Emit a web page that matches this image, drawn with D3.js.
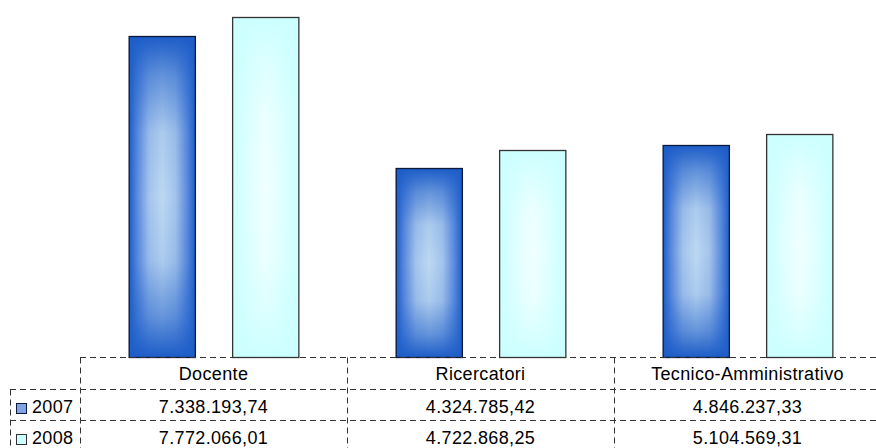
<!DOCTYPE html>
<html>
<head>
<meta charset="utf-8">
<script src="https://cdn.jsdelivr.net/npm/d3@7"></script>
<style>
  body { margin: 0; background: #fff; }
  svg { display: block; font-family: "Liberation Sans", Arial, sans-serif; }
</style>
</head>
<body>
<svg width="876" height="448"></svg>
<script>
// Data
var categories = ["Docente", "Ricercatori", "Tecnico-Amministrativo"];
var years = ["2007", "2008"];
var values2007 = [7338193.74, 4324785.42, 4846237.33];
var values2008 = [7772066.01, 4722868.25, 5104569.31];
var seriesValues = [values2007, values2008];

var svg = d3.select("svg"),
    width = +svg.attr("width"),
    height = +svg.attr("height");

var it = d3.formatLocale({ decimal: ",", thousands: ".", grouping: [3], currency: ["€", ""] });
var fmt = it.format(",.2f");

// Scales
var x0 = d3.scaleBand().domain(categories).range([80, 881]);
var x1 = d3.scaleBand().domain(years).range([0, x0.bandwidth()])
    .paddingInner(0.36).paddingOuter(0.47);
var y = d3.scaleLinear().domain([0, 8000000]).range([357, 7]);

// Gradients: a "rectangle" style fill, built from a horizontal base
// plus a vertical overlay that darkens towards the top and bottom
var defs = svg.append("defs");
var palettes = [
    { id: "blue", light: "#bcd8f2", mid1: "#a4c4ec", mid2: "#5b8bde", dark: "#1d5dc8", swatch: "#7ea4e4" },
    { id: "cyan", light: "#f0ffff", mid1: "#e4ffff", mid2: "#d4ffff", dark: "#ccffff", swatch: "#ccffff" }
];
var profile = [[0, "light"], [0.4, "mid1"], [0.75, "mid2"], [1, "dark"]];
var alphas = [[0, 0], [0.4, 0.1], [0.75, 0.55], [1, 1]];

palettes.forEach(function (p) {
    var h = defs.append("linearGradient").attr("id", p.id + "H")
        .attr("x1", 0).attr("x2", 1).attr("y1", 0).attr("y2", 0);
    var stopsH = [];
    profile.forEach(function (s) {
        stopsH.push([0.5 - s[0] / 2, p[s[1]]]);
        stopsH.push([0.5 + s[0] / 2, p[s[1]]]);
    });
    stopsH.sort(function (a, b) { return a[0] - b[0]; });
    stopsH.forEach(function (s) {
        h.append("stop").attr("offset", s[0]).attr("stop-color", s[1]);
    });
    var v = defs.append("linearGradient").attr("id", p.id + "V")
        .attr("x1", 0).attr("x2", 0).attr("y1", 0).attr("y2", 1);
    var stopsV = [];
    alphas.forEach(function (s) {
        stopsV.push([0.5 - s[0] / 2, s[1]]);
        stopsV.push([0.5 + s[0] / 2, s[1]]);
    });
    stopsV.sort(function (a, b) { return a[0] - b[0]; });
    stopsV.forEach(function (s) {
        v.append("stop").attr("offset", s[0]).attr("stop-color", p.dark).attr("stop-opacity", s[1]);
    });
});
var strokes = ["#0b1a3a", "#333333"];

// Bars
var groups = svg.append("g").selectAll("g")
    .data(categories)
    .enter().append("g")
    .attr("transform", function (d) { return "translate(" + x0(d) + ",0)"; });

var barData = function (d, i) {
    return years.map(function (yr, j) { return { year: yr, s: j, value: seriesValues[j][i] }; });
};
["H", "V", "S"].forEach(function (layer) {
    groups.selectAll("rect.l" + layer)
        .data(barData)
        .enter().append("rect")
        .attr("class", "l" + layer)
        .attr("x", function (d) { return x1(d.year) + 0.5; })
        .attr("y", function (d) { return Math.round(y(d.value)) + 0.5; })
        .attr("width", x1.bandwidth())
        .attr("height", function (d) { return 357 - Math.round(y(d.value)); })
        .attr("fill", function (d) { return layer === "S" ? "none" : "url(#" + palettes[d.s].id + layer + ")"; })
        .attr("stroke", function (d) { return layer === "S" ? strokes[d.s] : "none"; })
        .attr("stroke-width", 1.3);
});

// Data table grid
var grid = svg.append("g")
    .attr("stroke", "#333")
    .attr("stroke-width", 1)
    .attr("stroke-dasharray", "6,4")
    .attr("fill", "none");
var rowY = [357.5, 389.5, 420.5];
grid.append("line").attr("x1", 80).attr("x2", width).attr("y1", rowY[0]).attr("y2", rowY[0]);
grid.append("line").attr("x1", 10).attr("x2", width).attr("y1", rowY[1]).attr("y2", rowY[1]);
grid.append("line").attr("x1", 10).attr("x2", width).attr("y1", rowY[2]).attr("y2", rowY[2]);
grid.append("line").attr("x1", 10.5).attr("x2", 10.5).attr("y1", rowY[1]).attr("y2", height);
categories.forEach(function (c) {
    var xx = Math.round(x0(c)) + 0.5;
    grid.append("line").attr("x1", xx).attr("x2", xx).attr("y1", rowY[0]).attr("y2", height);
});

// Header labels
var textStyle = function (sel) {
    sel.attr("font-size", 18).attr("letter-spacing", 0.35).attr("fill", "#000");
};
svg.append("g").selectAll("text")
    .data(categories)
    .enter().append("text")
    .attr("x", function (d) { return x0(d) + x0.bandwidth() / 2; })
    .attr("y", 380)
    .attr("text-anchor", "middle")
    .call(textStyle)
    .text(function (d) { return d; });

// Rows
years.forEach(function (yr, j) {
    var ty = 413 + j * 31;
    svg.append("rect")
        .attr("x", 16.5).attr("y", ty - 9.5)
        .attr("width", 10).attr("height", 10)
        .attr("fill", palettes[j].swatch)
        .attr("stroke", strokes[j]).attr("stroke-width", 1);
    svg.append("text")
        .attr("x", 32).attr("y", ty)
        .call(textStyle)
        .text(yr);
    svg.append("g").selectAll("text")
        .data(seriesValues[j])
        .enter().append("text")
        .attr("x", function (d, i) { return x0(categories[i]) + x0.bandwidth() / 2; })
        .attr("y", ty)
        .attr("text-anchor", "middle")
        .call(textStyle)
        .text(function (d) { return fmt(d); });
});
</script>
</body>
</html>
